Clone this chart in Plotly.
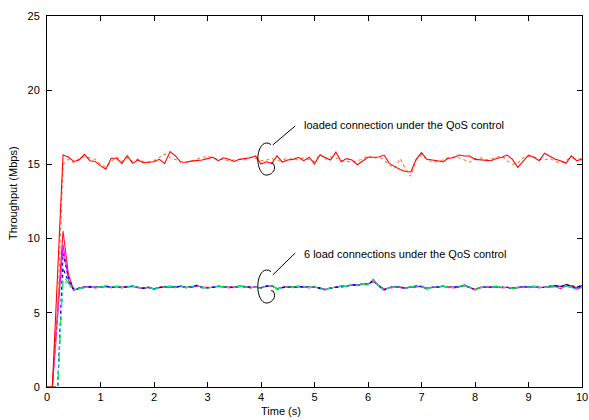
import plotly.graph_objects as go

# ---------------- data ----------------
time_s = [0.0, 0.1, 0.2, 0.3, 0.4, 0.5, 0.6, 0.7, 0.8, 0.9,
          1.0, 1.1, 1.2, 1.3, 1.4, 1.5, 1.6, 1.7, 1.8, 1.9,
          2.0, 2.1, 2.2, 2.3, 2.4, 2.5, 2.6, 2.7, 2.8, 2.9,
          3.0, 3.1, 3.2, 3.3, 3.4, 3.5, 3.6, 3.7, 3.8, 3.9,
          4.0, 4.1, 4.2, 4.3, 4.4, 4.5, 4.6, 4.7, 4.8, 4.9,
          5.0, 5.1, 5.2, 5.3, 5.4, 5.5, 5.6, 5.7, 5.8, 5.9,
          6.0, 6.1, 6.2, 6.3, 6.4, 6.5, 6.6, 6.7, 6.8, 6.9,
          7.0, 7.1, 7.2, 7.3, 7.4, 7.5, 7.6, 7.7, 7.8, 7.9,
          8.0, 8.1, 8.2, 8.3, 8.4, 8.5, 8.6, 8.7, 8.8, 8.9,
          9.0, 9.1, 9.2, 9.3, 9.4, 9.5, 9.6, 9.7, 9.8, 9.9,
          10.0]

loaded_solid = [0, 0, 7.8, 15.63, 15.50, 15.20, 15.30, 15.68, 15.25, 15.20,
                14.90, 14.67, 15.41, 15.41, 15.07, 15.59, 15.07, 15.30, 15.11, 15.16,
                15.18, 15.34, 15.07, 15.86, 15.57, 15.16, 15.14, 15.22, 15.25, 15.30,
                15.39, 15.48, 15.25, 15.45, 15.35, 15.20, 15.34, 15.38, 15.45, 15.57,
                15.03, 15.18, 15.07, 15.57, 15.16, 15.30, 15.34, 15.48, 15.25, 15.48,
                15.03, 15.63, 15.48, 15.30, 15.83, 15.18, 15.39, 15.30, 14.98, 15.25,
                15.48, 15.48, 15.50, 15.63, 15.07, 14.85, 14.65, 14.52, 14.49, 15.34,
                15.79, 15.34, 15.30, 15.25, 15.16, 15.41, 15.45, 15.63, 15.57, 15.57,
                15.34, 15.30, 15.28, 15.25, 15.40, 15.48, 15.63, 15.34, 14.80, 15.18,
                15.63, 15.48, 15.25, 15.75, 15.52, 15.34, 15.25, 15.07, 15.57, 15.25,
                15.34]

loaded_dotted = [0, 0, 5.0, 15.0, 15.35, 15.10, 15.40, 15.50, 15.45, 15.35,
                 15.0, 14.8, 15.2, 15.5, 15.2, 15.45, 15.2, 15.35, 15.2, 15.15,
                 15.25, 15.5, 15.7, 15.45, 15.3, 15.2, 15.15, 15.25, 15.35, 15.4,
                 15.55, 15.45, 15.3, 15.35, 15.25, 15.3, 15.35, 15.3, 15.5, 15.4,
                 15.25, 15.3, 15.4, 15.25, 15.3, 15.4, 15.35, 15.3, 15.45, 15.35,
                 15.2, 15.7, 15.35, 15.5, 15.45, 15.25, 15.2, 15.15, 15.25, 15.35,
                 15.6, 15.4, 15.5, 15.3, 14.95, 14.75, 15.4, 14.7, 14.2, 15.3,
                 15.65, 15.35, 15.15, 15.2, 15.3, 15.45, 15.5, 15.45, 15.3, 15.15,
                 15.4, 15.45, 15.3, 15.35, 15.5, 15.55, 15.25, 15.0, 15.1, 15.45,
                 15.55, 15.5, 15.35, 15.3, 15.4, 15.2, 15.1, 15.3, 15.45, 15.35,
                 15.4]

load1 = [0, 0, 5.3, 10.5, 7.6,
         6.50, 6.68, 6.75, 6.72, 6.74, 6.78, 6.76, 6.70, 6.80, 6.72,
         6.78, 6.76, 6.72, 6.62, 6.70, 6.58, 6.72, 6.78, 6.75, 6.70,
         6.82, 6.72, 6.70, 6.80, 6.74, 6.70, 6.70, 6.80, 6.72, 6.74,
         6.70, 6.78, 6.78, 6.72, 6.70, 6.70, 6.78, 6.82, 6.62, 6.72,
         6.72, 6.75, 6.80, 6.72, 6.74, 6.72, 6.68, 6.58, 6.66, 6.75,
         6.78, 6.80, 6.88, 6.82, 6.92, 6.95, 7.10, 6.85, 6.60, 6.68,
         6.72, 6.75, 6.68, 6.72, 6.78, 6.80, 6.65, 6.70, 6.78, 6.78,
         6.75, 6.68, 6.72, 6.88, 6.70, 6.58, 6.72, 6.72, 6.75, 6.76,
         6.72, 6.70, 6.68, 6.72, 6.72, 6.75, 6.80, 6.72, 6.70, 6.78,
         6.85, 6.78, 6.90, 6.80, 6.70, 6.85]

load2 = [0, 0, 4.8, 9.6, 7.2,
         6.55, 6.62, 6.70, 6.78, 6.68, 6.72, 6.82, 6.70, 6.76, 6.72,
         6.72, 6.82, 6.68, 6.68, 6.74, 6.62, 6.68, 6.72, 6.80, 6.74,
         6.78, 6.68, 6.78, 6.82, 6.72, 6.66, 6.74, 6.76, 6.78, 6.68,
         6.74, 6.82, 6.72, 6.72, 6.74, 6.66, 6.82, 6.82, 6.64, 6.68,
         6.78, 6.70, 6.76, 6.78, 6.68, 6.78, 6.62, 6.56, 6.70, 6.70,
         6.82, 6.76, 6.92, 6.88, 6.92, 6.88, 7.25, 6.78, 6.52, 6.72,
         6.78, 6.70, 6.62, 6.78, 6.78, 6.76, 6.60, 6.74, 6.72, 6.82,
         6.70, 6.72, 6.78, 6.82, 6.74, 6.52, 6.68, 6.78, 6.70, 6.80,
         6.68, 6.74, 6.62, 6.68, 6.78, 6.70, 6.76, 6.68, 6.74, 6.72,
         6.78, 6.62, 6.80, 6.72, 6.60, 6.75]

load3 = [0, 0, 0, 9.0, 7.4,
         6.58, 6.66, 6.74, 6.72, 6.72, 6.76, 6.78, 6.74, 6.76, 6.68,
         6.76, 6.78, 6.72, 6.66, 6.70, 6.62, 6.72, 6.74, 6.76, 6.74,
         6.78, 6.72, 6.72, 6.86, 6.68, 6.70, 6.70, 6.80, 6.74, 6.72,
         6.70, 6.78, 6.76, 6.68, 6.74, 6.70, 6.78, 6.86, 6.58, 6.72,
         6.74, 6.74, 6.76, 6.76, 6.72, 6.74, 6.66, 6.54, 6.66, 6.74,
         6.78, 6.80, 6.88, 6.86, 6.98, 6.92, 7.15, 6.82, 6.58, 6.68,
         6.76, 6.74, 6.66, 6.74, 6.82, 6.76, 6.64, 6.70, 6.76, 6.78,
         6.74, 6.70, 6.74, 6.86, 6.70, 6.56, 6.72, 6.74, 6.74, 6.76,
         6.72, 6.70, 6.66, 6.72, 6.74, 6.74, 6.76, 6.72, 6.70, 6.76,
         6.78, 6.72, 6.88, 6.78, 6.62, 6.82]

load4 = [0, 0, 0, 7.5, 7.0,
         6.52, 6.64, 6.70, 6.76, 6.70, 6.74, 6.80, 6.74, 6.78, 6.72,
         6.74, 6.80, 6.72, 6.64, 6.74, 6.60, 6.68, 6.76, 6.78, 6.70,
         6.80, 6.70, 6.76, 6.84, 6.72, 6.66, 6.74, 6.78, 6.76, 6.70,
         6.72, 6.80, 6.74, 6.70, 6.72, 6.66, 6.80, 6.84, 6.62, 6.70,
         6.76, 6.72, 6.78, 6.74, 6.70, 6.76, 6.64, 6.56, 6.68, 6.72,
         6.80, 6.78, 6.90, 6.84, 6.96, 6.90, 7.22, 6.80, 6.56, 6.70,
         6.74, 6.72, 6.64, 6.76, 6.80, 6.78, 6.62, 6.72, 6.74, 6.80,
         6.72, 6.70, 6.76, 6.84, 6.72, 6.54, 6.70, 6.76, 6.72, 6.78,
         6.70, 6.72, 6.64, 6.70, 6.76, 6.72, 6.78, 6.70, 6.72, 6.74,
         6.76, 6.68, 6.82, 6.70, 6.62, 6.72]

load5 = [0, 0, 0, 7.2, 6.9,
         6.56, 6.66, 6.72, 6.74, 6.70, 6.76, 6.80, 6.72, 6.78, 6.70,
         6.76, 6.80, 6.70, 6.66, 6.72, 6.60, 6.70, 6.74, 6.78, 6.72,
         6.80, 6.70, 6.74, 6.85, 6.70, 6.68, 6.72, 6.78, 6.74, 6.70,
         6.72, 6.80, 6.76, 6.70, 6.72, 6.68, 6.80, 6.84, 6.60, 6.70,
         6.75, 6.72, 6.78, 6.75, 6.70, 6.75, 6.66, 6.55, 6.68, 6.72,
         6.80, 6.78, 6.90, 6.85, 6.95, 6.90, 7.18, 6.80, 6.55, 6.70,
         6.75, 6.72, 6.66, 6.75, 6.80, 6.78, 6.62, 6.72, 6.75, 6.80,
         6.72, 6.70, 6.75, 6.84, 6.72, 6.55, 6.70, 6.75, 6.72, 6.78,
         6.70, 6.72, 6.65, 6.70, 6.75, 6.72, 6.78, 6.70, 6.72, 6.72,
         6.74, 6.66, 6.78, 6.70, 6.58, 6.70]

load6 = [0, 0, 0, 8.0, 7.1,
         6.54, 6.65, 6.72, 6.75, 6.71, 6.75, 6.79, 6.72, 6.77, 6.71,
         6.75, 6.79, 6.71, 6.65, 6.72, 6.61, 6.70, 6.75, 6.77, 6.72,
         6.79, 6.71, 6.75, 6.84, 6.71, 6.68, 6.72, 6.78, 6.75, 6.71,
         6.72, 6.79, 6.75, 6.71, 6.72, 6.68, 6.79, 6.84, 6.61, 6.71,
         6.75, 6.72, 6.77, 6.75, 6.71, 6.75, 6.66, 6.56, 6.68, 6.72,
         6.79, 6.78, 6.89, 6.85, 6.94, 6.90, 7.16, 6.81, 6.56, 6.70,
         6.75, 6.72, 6.66, 6.75, 6.79, 6.78, 6.63, 6.72, 6.75, 6.79,
         6.72, 6.71, 6.75, 6.84, 6.72, 6.56, 6.70, 6.75, 6.72, 6.77,
         6.71, 6.72, 6.66, 6.71, 6.75, 6.72, 6.77, 6.71, 6.72, 6.80,
         6.82, 6.74, 6.92, 6.84, 6.72, 6.90]

x_ticks = [0, 1, 2, 3, 4, 5, 6, 7, 8, 9, 10]
y_ticks = [0, 5, 10, 15, 20, 25]

label_loaded = "loaded connection under the QoS control"
label_load = "6 load connections under the QoS control"
x_title = "Time (s)"
y_title = "Throughput (Mbps)"

for s in [loaded_solid, loaded_dotted, load1, load2, load3, load4, load5, load6]:
    assert len(s) == len(time_s), len(s)

# ---------------- figure ----------------
FONT = "Liberation Sans, Arial, sans-serif"
fig = go.Figure()

series = [
    (load1, "#ff1040", "solid"),
    (load2, "#ff00ff", "solid"),
    (load3, "#0000ff", "dot"),
    (load6, "#00008b", "dot"),
    (load4, "#00ee00", "dash"),
    (load5, "#00e5ee", "dot"),
    (loaded_dotted, "#ff7733", "dot"),
    (loaded_solid, "#ff0000", "solid"),
]
for ys, col, dash in series:
    fig.add_trace(go.Scatter(x=time_s, y=ys, mode="lines",
                             line=dict(color=col, width=1.1, dash=dash),
                             showlegend=False, hoverinfo="skip"))


def c_path(cx, cy, rx, ry):
    k = 0.5523
    p = []
    p.append(f"M {cx + 0.55*rx},{cy + 0.9*ry}")
    p.append(f"Q {cx + 0.3*rx},{cy + 1.02*ry} {cx},{cy + ry}")
    p.append(f"C {cx - k*rx},{cy + ry} {cx - rx},{cy + k*ry} {cx - rx},{cy}")
    p.append(f"C {cx - rx},{cy - k*ry} {cx - k*rx},{cy - ry} {cx},{cy - ry}")
    p.append(f"C {cx + k*rx},{cy - ry} {cx + 1.05*rx},{cy - 0.75*ry} {cx + 0.95*rx},{cy - 0.45*ry}")
    p.append(f"Q {cx + 0.85*rx},{cy - 0.2*ry} {cx + 0.55*rx},{cy - 0.25*ry}")
    return " ".join(p)


shapes = []
for cy, ry, y0, y1 in [(15.36, 1.08, 16.31, 17.59), (6.77, 1.11, 7.55, 9.03)]:
    shapes.append(dict(type="path", xref="x", yref="y",
                       path=c_path(4.10, cy, 0.16, ry),
                       line=dict(color="black", width=1)))
    shapes.append(dict(type="line", xref="x", yref="y",
                       x0=4.22, y0=y0, x1=4.64, y1=y1,
                       line=dict(color="black", width=1)))

annotations = [
    dict(x=4.77, y=17.65, xref="x", yref="y", text=label_loaded, showarrow=False,
         xanchor="left", yanchor="middle", font=dict(family=FONT, size=11, color="black")),
    dict(x=4.77, y=8.96, xref="x", yref="y", text=label_load, showarrow=False,
         xanchor="left", yanchor="middle", font=dict(family=FONT, size=11, color="black")),
    dict(x=(281 - 47) / 535, y=-(419 - 387) / 371, xref="paper", yref="paper", text=x_title,
         showarrow=False, xanchor="center", yanchor="bottom",
         font=dict(family=FONT, size=11, color="black")),
    dict(x=-(47 - 13) / 535, y=(387 - 193) / 371, xref="paper", yref="paper", text=y_title,
         showarrow=False, xanchor="center", yanchor="middle", textangle=-90,
         font=dict(family=FONT, size=11, color="black")),
]

axis_common = dict(showgrid=False, zeroline=False, showline=True, linecolor="black",
                   linewidth=1, mirror="ticks", ticks="inside", ticklen=5,
                   tickcolor="black", tickwidth=1, ticklabeloverflow="allow",
                   tickfont=dict(family=FONT, size=11, color="black"))

fig.update_layout(
    width=589, height=420,
    margin=dict(l=47, r=7, t=16, b=33, autoexpand=False),
    paper_bgcolor="white", plot_bgcolor="white",
    xaxis=dict(range=[0, 10], tickvals=x_ticks, **axis_common),
    yaxis=dict(range=[0, 25], tickvals=y_ticks, ticklabelstandoff=4, **axis_common),
    shapes=shapes, annotations=annotations,
)

fig.write_html("out.html", config={"displayModeBar": False},
               post_script="document.body.style.margin='0';document.body.style.padding='0';")
